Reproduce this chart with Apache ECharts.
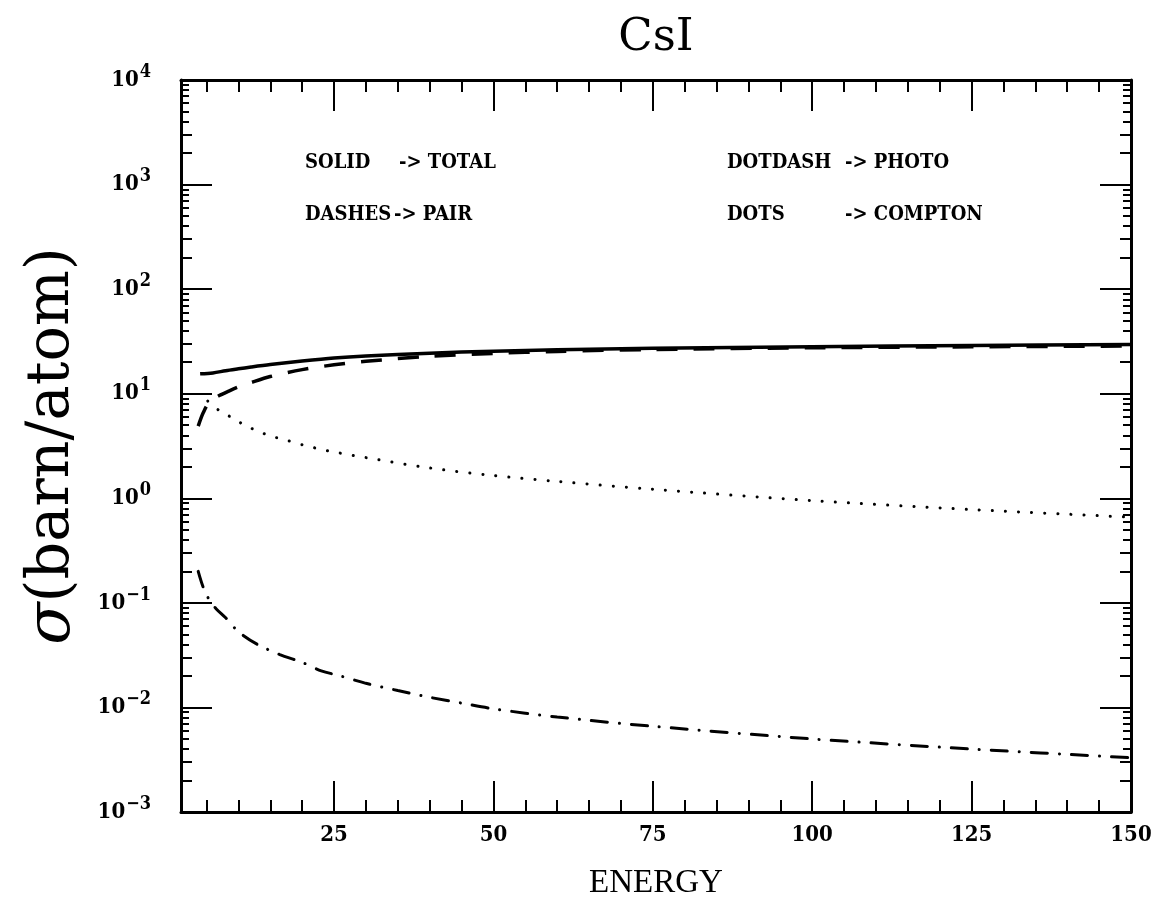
<!DOCTYPE html>
<html>
<head>
<meta charset="utf-8">
<script src="https://cdn.jsdelivr.net/npm/echarts@6/dist/echarts.min.js"></script>
<style>
html,body{margin:0;padding:0;background:#fff;}
#chart{width:1170px;height:910px;}
</style>
</head>
<body>
<div id="chart"></div>
<script>
// ---- data ----
const totalE  = [4, 6, 8, 10, 12, 15, 20, 25, 30, 40, 50, 60, 75, 100, 125, 150];
const totalV  = [15.5, 15.8, 16.6, 17.3, 18.0, 19.0, 20.5, 21.9, 22.9, 24.4, 25.5, 26.3, 27.2, 28.2, 28.9, 29.5];

const pairE   = [3.7, 4.5, 5.5, 7, 8.5, 10, 12, 15, 20, 25, 30, 40, 50, 60, 75, 100, 125, 150];
const pairV   = [4.9, 6.6, 8.4, 9.6, 10.6, 11.6, 12.8, 14.6, 17.0, 18.9, 20.4, 22.8, 24.3, 25.4, 26.5, 27.5, 28.1, 28.6];

const comptonE = [5.2, 7, 9, 11, 13, 15, 17.5, 20, 24, 30, 40, 50, 60, 75, 100, 125, 150];
const comptonV = [8.5, 6.9, 5.9, 5.0, 4.4, 3.95, 3.6, 3.25, 2.85, 2.45, 1.95, 1.65, 1.45, 1.22, 0.95, 0.78, 0.66];

const photoE  = [3.7, 4.5, 5.5, 6.5, 8, 10, 13, 16.5, 20, 23, 26, 30, 35, 40, 45, 50, 60, 75, 100, 125, 150];
const photoV  = [0.2, 0.14, 0.105, 0.088, 0.072, 0.053, 0.040, 0.032, 0.027, 0.0224, 0.020, 0.017, 0.0145, 0.0125, 0.011, 0.0097, 0.0081, 0.0066, 0.005, 0.004, 0.0033];

const xMajorTicks = [25, 50, 75, 100, 125, 150];
const xMinorTicks = [5, 10, 15, 20, 30, 35, 40, 45, 55, 60, 65, 70, 80, 85, 90, 95, 105, 110, 115, 120, 130, 135, 140, 145];
const yDecades = [1e-3, 1e-2, 1e-1, 1, 10, 100, 1000, 10000];
const yExponents = ['\u22123', '\u22122', '\u22121', '0', '1', '2', '3', '4'];

const legendRows = [
  ['SOLID', '-> TOTAL', 'DOTDASH', '-> PHOTO'],
  ['DASHES', '-> PAIR', 'DOTS', '-> COMPTON']
];
// ---------------------------------------

const yMinorLong = [], yMinorShort = [];
yDecades.slice(0, -1).forEach(d => {
  for (let k = 2; k <= 9; k++) (k <= 3 ? yMinorLong : yMinorShort).push(+(d * k).toPrecision(3));
});

const zip = (xs, ys) => xs.map((x, i) => [x, ys[i]]);

const boldFont = '"DejaVu Serif Condensed", "DejaVu Serif", serif';
const BLACK = '#000';

function xAxisDef(pos, ticks, len, withLine, withLabel) {
  return {
    type: 'value', min: 1, max: 150, position: pos,
    axisLine: { show: withLine, onZero: false, lineStyle: { color: BLACK, width: 3 } },
    axisTick: { show: true, inside: true, length: len, customValues: ticks, lineStyle: { color: BLACK, width: 2 } },
    axisLabel: withLabel ? {
      show: true, customValues: xMajorTicks, margin: 12,
      fontFamily: boldFont, fontWeight: 'bold', fontSize: 22, color: BLACK
    } : { show: false },
    splitLine: { show: false }
  };
}
function yAxisDef(pos, ticks, len, withLine, withLabel) {
  const a = {
    type: 'log', logBase: 10, min: 1e-3, max: 1e4, position: pos,
    axisLine: { show: withLine, onZero: false, lineStyle: { color: BLACK, width: 3 } },
    axisTick: { show: true, inside: true, length: len, customValues: ticks, lineStyle: { color: BLACK, width: 2 } },
    axisLabel: { show: false },
    splitLine: { show: false }
  };
  if (withLabel) {
    a.axisLabel = {
      show: true, customValues: yDecades, margin: 30,
      formatter: v => {
        const i = yDecades.findIndex(d => Math.abs(Math.log10(d) - Math.log10(v)) < 1e-6);
        return '{b|10}{s|' + yExponents[i] + '}';
      },
      rich: {
        b: { fontFamily: boldFont, fontWeight: 'bold', fontSize: 22, color: BLACK, lineHeight: 30 },
        s: { fontFamily: boldFont, fontWeight: 'bold', fontSize: 18, color: BLACK, lineHeight: 30, padding: [0, 0, 16, 1] }
      }
    };
    a.name = '{g|\u03c3}{m|(barn/atom)}';
    a.nameLocation = 'middle';
    a.nameGap = 97;
    a.nameTextStyle = {
      rich: {
        g: { fontFamily: '"DejaVu Serif", serif', fontStyle: 'italic', fontSize: 62, color: BLACK },
        m: { fontFamily: '"DejaVu Serif", serif', fontSize: 59, color: BLACK }
      }
    };
  }
  return a;
}

const chart = echarts.init(document.getElementById('chart'), null, { renderer: 'canvas' });

const graphics = [{
  type: 'text', x: 656, y: 38,
  style: { text: 'CsI', font: '45px "DejaVu Serif", serif', fill: BLACK, textAlign: 'center', textVerticalAlign: 'middle' }
}];
const legendY = [163, 215];
const colX = [[305, 399, 727, 845], [305, 394, 727, 845]];
legendRows.forEach((row, r) => {
  row.forEach((txt, c) => {
    graphics.push({
      type: 'text', x: colX[r][c], y: legendY[r],
      style: { text: txt, font: 'bold 20px ' + boldFont, fill: BLACK, textVerticalAlign: 'middle' }
    });
  });
});

chart.setOption({
  backgroundColor: '#fff',
  animation: false,
  grid: { left: 181, right: 39, top: 80, bottom: 98, containLabel: false, outerBoundsMode: 'none' },
  xAxis: [
    Object.assign(xAxisDef('bottom', xMajorTicks, 31, true, true), {
      name: 'ENERGY', nameLocation: 'middle', nameGap: 55,
      nameTextStyle: { fontFamily: '"Liberation Serif", serif', fontSize: 33, color: BLACK }
    }),
    xAxisDef('bottom', xMinorTicks, 12, false, false),
    xAxisDef('top', xMajorTicks, 31, true, false),
    xAxisDef('top', xMinorTicks, 12, false, false)
  ],
  yAxis: [
    yAxisDef('left', yDecades, 31, true, true),
    yAxisDef('left', yMinorLong, 11, false, false),
    yAxisDef('left', yMinorShort, 8, false, false),
    yAxisDef('right', yDecades, 31, true, false),
    yAxisDef('right', yMinorLong, 11, false, false),
    yAxisDef('right', yMinorShort, 8, false, false)
  ],
  graphic: graphics,
  series: [
    { name: 'TOTAL', type: 'line', data: zip(totalE, totalV), smooth: 0.3, showSymbol: false,
      lineStyle: { color: BLACK, width: 3.5, type: 'solid' } },
    { name: 'PAIR', type: 'line', data: zip(pairE, pairV), smooth: 0.3, showSymbol: false,
      lineStyle: { color: BLACK, width: 3.5, type: [21, 16] } },
    { name: 'COMPTON', type: 'line', data: zip(comptonE, comptonV), smooth: 0.3, showSymbol: false,
      lineStyle: { color: BLACK, width: 3, type: [0.1, 13], cap: 'round' } },
    { name: 'PHOTO', type: 'line', data: zip(photoE, photoV), smooth: 0.3, showSymbol: false,
      lineStyle: { color: BLACK, width: 3, type: [16, 12, 0.1, 12], cap: 'round' } }
  ]
});
</script>
</body>
</html>
